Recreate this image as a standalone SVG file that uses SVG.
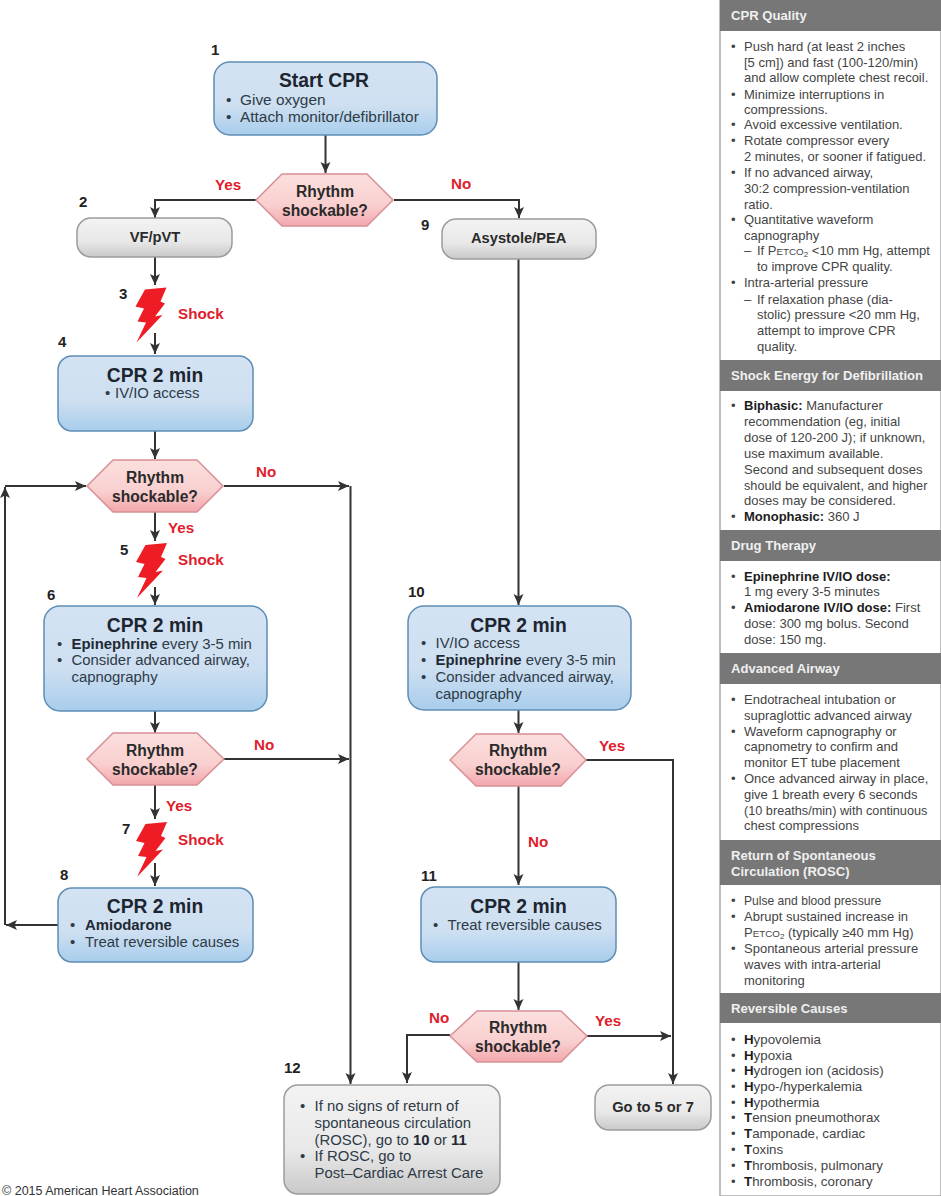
<svg xmlns="http://www.w3.org/2000/svg" xmlns:xlink="http://www.w3.org/1999/xlink" width="941" height="1196" viewBox="0 0 941 1196">
<style>
text{font-family:"Liberation Sans",Arial,sans-serif}
.box{stroke:#5f8db5;stroke-width:1.5;fill:url(#blue)}
.gray{stroke:#9c9c9c;stroke-width:1.5;fill:url(#grey)}
.hex{stroke:#d88f95;stroke-width:1.5;fill:url(#pink)}
.title{font-size:19.3px;font-weight:bold;fill:#1c2530;text-anchor:middle}
.b{font-size:14.9px;fill:#2f3b47}
.b1{font-size:15.4px}
.c{font-size:15.6px;font-weight:bold;fill:#2a2a2a;text-anchor:middle}
.c2{font-size:14.7px}
.n{font-size:15px;font-weight:bold;fill:#222}
.r{font-size:15.2px;font-weight:bold;fill:#e0202c}
.w{font-weight:bold;fill:#1f2933}
.h{font-size:13.1px;font-weight:bold;fill:#f0f0f0}
.p{font-size:13px;fill:#444}
.p2{font-size:12.7px}
.p3{font-size:13.3px}
.p4{font-size:12.1px}
.s{font-weight:bold;fill:#1c1c1c}
.k{font-size:9.8px}
.u{font-size:8px}
.ln{fill:none;stroke:#333;stroke-width:2;marker-end:url(#ah)}
.bar{fill:#777}
.bolt{fill:#ee1c25}
</style>
<defs>
<linearGradient id="blue" x1="0" y1="0" x2="0" y2="1"><stop offset="0" stop-color="#d4e3f3"/><stop offset=".6" stop-color="#cddff1"/><stop offset="1" stop-color="#a8cdec"/></linearGradient>
<linearGradient id="grey" x1="0" y1="0" x2="0" y2="1"><stop offset="0" stop-color="#f3f3f3"/><stop offset=".6" stop-color="#e8e8e8"/><stop offset="1" stop-color="#c9c9c9"/></linearGradient>
<linearGradient id="pink" x1="0" y1="0" x2="0" y2="1"><stop offset="0" stop-color="#fbe0de"/><stop offset=".6" stop-color="#f9cfcf"/><stop offset="1" stop-color="#f2a7ad"/></linearGradient>
<marker id="ah" markerUnits="userSpaceOnUse" markerWidth="12" markerHeight="11" refX="11" refY="5" orient="auto"><path d="M0 0L11 5L0 10L2.5 5Z" fill="#333"/></marker>
<path id="bl" d="M8.500 2L30 0L24 14L28.500 16L18.500 29L26 27.500L0 55L9.500 35L1 34L7.500 21L-1 19Z"/>
</defs>
<rect width="941" height="1196" fill="#fff"/>

<g id="connectors">
<path class="ln" d="M325.5 135V173"/>
<path class="ln" d="M256 200H155V218"/>
<path class="ln" d="M394 200H519V218"/>
<path class="ln" d="M155 257V285"/>
<path class="ln" d="M155 333V354"/>
<path class="ln" d="M155 431V459"/>
<path class="ln" d="M224 486H349"/>
<path class="ln" d="M155 512V541"/>
<path class="ln" d="M155 587V605"/>
<path class="ln" d="M155 711V733"/>
<path class="ln" d="M224 759H349"/>
<path class="ln" d="M155 785V819"/>
<path class="ln" d="M155 863V886"/>
<path class="ln" d="M58 925H6"/>
<path class="ln" d="M5 925V487"/>
<path class="ln" d="M5 486H86"/>
<path class="ln" d="M350.5 486V1084"/>
<path class="ln" d="M518.5 259V605"/>
<path class="ln" d="M518.5 710V733"/>
<path class="ln" d="M586 760H673V1084"/>
<path class="ln" d="M518.5 786V885"/>
<path class="ln" d="M518.5 962V1010"/>
<path class="ln" d="M450 1035H407V1083"/>
<path class="ln" d="M587 1036H671"/>
</g>

<g id="node1"><rect class="box" x="214" y="62" width="223" height="73" rx="16"/>
<text class="title" x="324" y="87">Start CPR</text>
<text class="b b1" x="226" y="105">•</text><text class="b b1" x="240" y="105">Give oxygen</text>
<text class="b b1" x="226" y="122">•</text><text class="b b1" x="240" y="122">Attach monitor/defibrillator</text>
<text class="n" x="211" y="55">1</text></g>

<g id="decision1"><path class="hex" d="M256 200L282 174H367L393 200L367 226H282Z"/>
<text class="c" x="325" y="197">Rhythm</text><text class="c" x="325" y="216">shockable?</text>
<text class="r" x="215" y="190">Yes</text><text class="r" x="451" y="189">No</text></g>

<g id="node2"><rect class="gray" x="77" y="218" width="155" height="39" rx="14"/>
<text class="c c2" x="155" y="242">VF/pVT</text><text class="n" x="79" y="207">2</text></g>

<g id="node3"><use xlink:href="#bl" href="#bl" class="bolt" x="136.500" y="287.500"/>
<text class="r" x="178" y="319">Shock</text><text class="n" x="119" y="299">3</text></g>

<g id="node4"><rect class="box" x="58" y="356" width="195" height="75" rx="14"/>
<text class="title" x="155" y="382">CPR 2 min</text>
<text class="b" x="105" y="398">•</text><text class="b" x="115" y="398">IV/IO access</text>
<text class="n" x="58" y="347">4</text></g>

<g id="decision2"><path class="hex" d="M87 486L113 460H197L223 486L197 512H113Z"/>
<text class="c" x="155" y="483">Rhythm</text><text class="c" x="155" y="502">shockable?</text>
<text class="r" x="256" y="477">No</text><text class="r" x="168" y="533">Yes</text></g>

<g id="node5"><use xlink:href="#bl" href="#bl" class="bolt" x="137" y="543"/>
<text class="r" x="178" y="565">Shock</text><text class="n" x="120" y="555">5</text></g>

<g id="node6"><rect class="box" x="44" y="606" width="223" height="105" rx="16"/>
<text class="title" x="155" y="632">CPR 2 min</text>
<text class="b" x="57" y="649">•</text><text class="b" x="71.500" y="649"><tspan class="w">Epinephrine</tspan> every 3-5 min</text>
<text class="b" x="57" y="665">•</text><text class="b" x="71.500" y="665">Consider advanced airway,</text>
<text class="b" x="71.500" y="682">capnography</text>
<text class="n" x="47" y="600">6</text></g>

<g id="decision3"><path class="hex" d="M87 759L113 733H197L224 759L197 785H113Z"/>
<text class="c" x="155" y="756">Rhythm</text><text class="c" x="155" y="775">shockable?</text>
<text class="r" x="254" y="750">No</text><text class="r" x="166" y="811">Yes</text></g>

<g id="node7"><use xlink:href="#bl" href="#bl" class="bolt" x="137" y="822"/>
<text class="r" x="178" y="845">Shock</text><text class="n" x="122" y="834">7</text></g>

<g id="node8"><rect class="box" x="58" y="888" width="195" height="74" rx="14"/>
<text class="title" x="155" y="913">CPR 2 min</text>
<text class="b" x="70" y="930">•</text><text class="b w" x="85" y="930">Amiodarone</text>
<text class="b" x="70" y="947">•</text><text class="b" x="85" y="947">Treat reversible causes</text>
<text class="n" x="60" y="880">8</text></g>

<g id="node9"><rect class="gray" x="442" y="219" width="154" height="40" rx="14"/>
<text class="c c2" x="518.700" y="243">Asystole/PEA</text><text class="n" x="421" y="230">9</text></g>

<g id="node10"><rect class="box" x="408" y="606" width="223" height="104" rx="16"/>
<text class="title" x="518.500" y="632">CPR 2 min</text>
<text class="b" x="421" y="648">•</text><text class="b" x="435.500" y="648">IV/IO access</text>
<text class="b" x="421" y="665">•</text><text class="b" x="435.500" y="665"><tspan class="w">Epinephrine</tspan> every 3-5 min</text>
<text class="b" x="421" y="682">•</text><text class="b" x="435.500" y="682">Consider advanced airway,</text>
<text class="b" x="435.500" y="699">capnography</text>
<text class="n" x="408" y="597">10</text></g>

<g id="decision4"><path class="hex" d="M450 760L476 734H561L586 760L561 786H476Z"/>
<text class="c" x="518" y="756">Rhythm</text><text class="c" x="518" y="775">shockable?</text>
<text class="r" x="599" y="751">Yes</text><text class="r" x="528" y="847">No</text></g>

<g id="node11"><rect class="box" x="421" y="887" width="195" height="75" rx="14"/>
<text class="title" x="518.500" y="913">CPR 2 min</text>
<text class="b" x="433" y="930">•</text><text class="b" x="447.500" y="930">Treat reversible causes</text>
<text class="n" x="421" y="881">11</text></g>

<g id="decision5"><path class="hex" d="M450 1036L477 1011H561L587 1036L561 1062H477Z"/>
<text class="c" x="518" y="1033">Rhythm</text><text class="c" x="518" y="1052">shockable?</text>
<text class="r" x="429" y="1023">No</text><text class="r" x="595" y="1026">Yes</text></g>

<g id="node12"><rect class="gray" x="284" y="1085" width="216" height="109" rx="14"/>
<text class="b" x="300" y="1111">•</text><text class="b" x="314.500" y="1111">If no signs of return of</text>
<text class="b" x="314.500" y="1128">spontaneous circulation</text>
<text class="b" x="314.500" y="1145">(ROSC), go to <tspan class="w">10</tspan> or <tspan class="w">11</tspan></text>
<text class="b" x="300" y="1161">•</text><text class="b" x="314.500" y="1161">If ROSC, go to</text>
<text class="b" x="314.500" y="1178">Post–Cardiac Arrest Care</text>
<text class="n" x="284" y="1073">12</text></g>

<g id="goto"><rect class="gray" x="595" y="1085" width="116" height="45" rx="14"/>
<text class="c c2" x="653" y="1112">Go to 5 or 7</text></g>

<text id="copyright" x="2" y="1195" font-size="12.500" fill="#333">© 2015 American Heart Association</text>

<g id="panel">
<rect x="720" y="0" width="221" height="1196" fill="#fff" stroke="#aaa" stroke-width="1.500"/>
<rect class="bar" x="720" y="0" width="221" height="31"/>
<rect class="bar" x="720" y="360" width="221" height="31"/>
<rect class="bar" x="720" y="530" width="221" height="31"/>
<rect class="bar" x="720" y="653" width="221" height="31"/>
<rect class="bar" x="720" y="840" width="221" height="45"/>
<rect class="bar" x="720" y="993" width="221" height="30"/>
<text class="h" x="731" y="20">CPR Quality</text>
<text class="h" x="731" y="380">Shock Energy for Defibrillation</text>
<text class="h" x="731" y="550">Drug Therapy</text>
<text class="h" x="731" y="673">Advanced Airway</text>
<text class="h" x="731" y="860">Return of Spontaneous</text>
<text class="h" x="731" y="876">Circulation (ROSC)</text>
<text class="h" x="731" y="1013">Reversible Causes</text>

<text class="p" x="731" y="51">•</text><text class="p" x="744" y="51">Push hard (at least 2 inches</text>
<text class="p" x="744" y="67">[5 cm]) and fast (100-120/min)</text>
<text class="p" x="744" y="82">and allow complete chest recoil.</text>
<text class="p" x="731" y="98.500">•</text><text class="p" x="744" y="98.500">Minimize interruptions in</text>
<text class="p" x="744" y="114">compressions.</text>
<text class="p" x="731" y="129">•</text><text class="p" x="744" y="129">Avoid excessive ventilation.</text>
<text class="p" x="731" y="145">•</text><text class="p" x="744" y="145">Rotate compressor every</text>
<text class="p" x="744" y="161">2 minutes, or sooner if fatigued.</text>
<text class="p" x="731" y="177">•</text><text class="p" x="744" y="177">If no advanced airway,</text>
<text class="p" x="744" y="192.500">30:2 compression-ventilation</text>
<text class="p" x="744" y="208.500">ratio.</text>
<text class="p" x="731" y="224">•</text><text class="p" x="744" y="224">Quantitative waveform</text>
<text class="p" x="744" y="240">capnography</text>
<text class="p" x="744" y="255">–</text><text class="p" x="757" y="255">If P<tspan class="k">ETCO</tspan><tspan class="u" dy="2">2</tspan><tspan dy="-2"> &lt;10 mm Hg, attempt</tspan></text>
<text class="p" x="757" y="271">to improve CPR quality.</text>
<text class="p" x="731" y="287">•</text><text class="p" x="744" y="287">Intra-arterial pressure</text>
<text class="p" x="744" y="303.500">–</text><text class="p" x="757" y="303.500">If relaxation phase (dia-</text>
<text class="p" x="757" y="319">stolic) pressure &lt;20 mm Hg,</text>
<text class="p" x="757" y="334.500">attempt to improve CPR</text>
<text class="p" x="757" y="350.500">quality.</text>

<text class="p" x="731" y="410">•</text><text class="p" x="744" y="410"><tspan class="s">Biphasic:</tspan> Manufacturer</text>
<text class="p" x="744" y="426">recommendation (eg, initial</text>
<text class="p" x="744" y="442">dose of 120-200 J); if unknown,</text>
<text class="p" x="744" y="458">use maximum available.</text>
<text class="p" x="744" y="474">Second and subsequent doses</text>
<text class="p p2" x="744" y="489.500">should be equivalent, and higher</text>
<text class="p" x="744" y="505">doses may be considered.</text>
<text class="p" x="731" y="521">•</text><text class="p" x="744" y="521"><tspan class="s">Monophasic:</tspan> 360 J</text>

<text class="p" x="731" y="580.500">•</text><text class="p s" x="744" y="580.500">Epinephrine IV/IO dose:</text>
<text class="p" x="744" y="596">1 mg every 3-5 minutes</text>
<text class="p" x="731" y="612">•</text><text class="p" x="744" y="612"><tspan class="s">Amiodarone IV/IO dose:</tspan> First</text>
<text class="p" x="744" y="628">dose: 300 mg bolus. Second</text>
<text class="p" x="744" y="644">dose: 150 mg.</text>

<text class="p" x="731" y="703.500">•</text><text class="p" x="744" y="703.500">Endotracheal intubation or</text>
<text class="p" x="744" y="720">supraglottic advanced airway</text>
<text class="p" x="731" y="735.500">•</text><text class="p" x="744" y="735.500">Waveform capnography or</text>
<text class="p" x="744" y="751">capnometry to confirm and</text>
<text class="p" x="744" y="767">monitor ET tube placement</text>
<text class="p" x="731" y="783">•</text><text class="p" x="744" y="783">Once advanced airway in place,</text>
<text class="p" x="744" y="798.500">give 1 breath every 6 seconds</text>
<text class="p p2" x="744" y="814.500">(10 breaths/min) with continuous</text>
<text class="p" x="744" y="830">chest compressions</text>

<text class="p" x="731" y="905">•</text><text class="p p4" x="744" y="905">Pulse and blood pressure</text>
<text class="p" x="731" y="921">•</text><text class="p" x="744" y="921">Abrupt sustained increase in</text>
<text class="p" x="744" y="937">P<tspan class="k">ETCO</tspan><tspan class="u" dy="2">2</tspan><tspan dy="-2"> (typically ≥40 mm Hg)</tspan></text>
<text class="p" x="731" y="953">•</text><text class="p" x="744" y="953">Spontaneous arterial pressure</text>
<text class="p" x="744" y="968.500">waves with intra-arterial</text>
<text class="p" x="744" y="984.500">monitoring</text>

<text class="p" x="731" y="1043.500">•</text><text class="p p3" x="744" y="1043.500"><tspan class="s">H</tspan>ypovolemia</text>
<text class="p" x="731" y="1059.500">•</text><text class="p p3" x="744" y="1059.500"><tspan class="s">H</tspan>ypoxia</text>
<text class="p" x="731" y="1075">•</text><text class="p p3" x="744" y="1075"><tspan class="s">H</tspan>ydrogen ion (acidosis)</text>
<text class="p" x="731" y="1091">•</text><text class="p p3" x="744" y="1091"><tspan class="s">H</tspan>ypo-/hyperkalemia</text>
<text class="p" x="731" y="1107">•</text><text class="p p3" x="744" y="1107"><tspan class="s">H</tspan>ypothermia</text>
<text class="p" x="731" y="1122">•</text><text class="p p3" x="744" y="1122"><tspan class="s">T</tspan>ension pneumothorax</text>
<text class="p" x="731" y="1138">•</text><text class="p p3" x="744" y="1138"><tspan class="s">T</tspan>amponade, cardiac</text>
<text class="p" x="731" y="1154">•</text><text class="p p3" x="744" y="1154"><tspan class="s">T</tspan>oxins</text>
<text class="p" x="731" y="1170">•</text><text class="p p3" x="744" y="1170"><tspan class="s">T</tspan>hrombosis, pulmonary</text>
<text class="p" x="731" y="1186">•</text><text class="p p3" x="744" y="1186"><tspan class="s">T</tspan>hrombosis, coronary</text>
</g>
</svg>
